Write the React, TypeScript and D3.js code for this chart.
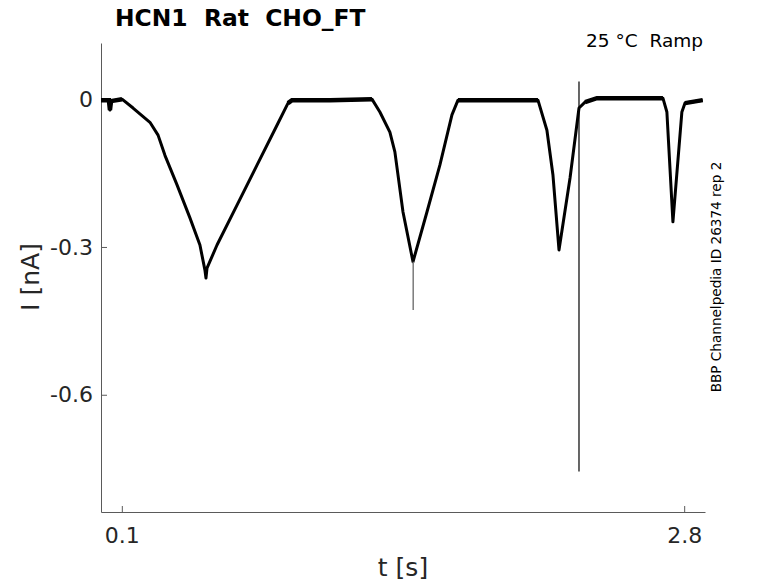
import React, { useEffect, useRef } from 'react';
import * as d3 from 'd3';

// trace (t in s, I in nA)
const timeS = [
  0, 0.038, 0.043, 0.048, 0.101, 0.154, 0.235, 0.274, 0.307, 0.365, 0.427, 0.475, 0.499, 0.504, 0.509,
  0.557, 0.653, 0.749, 0.845, 0.898, 0.917, 1.1, 1.301, 1.339, 1.387, 1.411, 1.45, 1.498,
  1.565, 1.627, 1.685, 1.714, 1.9, 2.098, 2.141, 2.17, 2.199, 2.252, 2.295, 2.324, 2.381,
  2.55, 2.698, 2.717, 2.746, 2.789, 2.804, 2.889,
];
const currentNA = [
  -0.002, -0.002, -0.022, -0.004, 0, -0.018, -0.047, -0.073, -0.114, -0.174, -0.241, -0.296, -0.347, -0.363, -0.343,
  -0.296, -0.215, -0.134, -0.053, -0.008, -0.002, -0.002, 0, -0.026, -0.067, -0.107, -0.229, -0.33,
  -0.229, -0.134, -0.032, -0.002, -0.002, -0.002, -0.063, -0.154, -0.306, -0.16, -0.018, -0.006, 0.002,
  0.002, 0.002, -0.026, -0.249, -0.026, -0.008, -0.002,
];

// holding periods where the noise band is visible
const plateauStart = [0, 0.898, 1.714, 2.324, 2.804];
const plateauEnd = [0.101, 1.301, 2.098, 2.698, 2.889];

// single-sample artefacts
const spikeTimes = [1.499, 2.295];
const spikeTops = [-0.33, 0.036];
const spikeBottoms = [-0.428, -0.756];

const xTicks = [0.1, 2.8];
const yTicks = [0, -0.3, -0.6];

const W = 778;
const H = 583;
const FONT = '"DejaVu Sans", sans-serif';

const App: React.FC = () => {
  const svgRef = useRef<SVGSVGElement>(null);

  useEffect(() => {
    const svg = d3.select(svgRef.current);
    svg.selectAll('*').remove();

    const x = d3.scaleLinear().domain([0, 2.9]).range([101, 705]);
    const y = d3.scaleLinear().domain([-0.838, 0.114]).range([512, 43]);

    // axes (ticks point inward)
    const xAxis = svg.append('g')
      .attr('transform', 'translate(0,512)')
      .call(d3.axisBottom(x).tickValues(xTicks).tickFormat(d3.format('.1f')).tickSizeInner(-6).tickSizeOuter(0).tickPadding(15));
    const yAxis = svg.append('g')
      .attr('transform', 'translate(101,0)')
      .call(d3.axisLeft(y).tickValues(yTicks).tickFormat(d => (d === 0 ? '0' : d3.format('.1f')(d as number))).tickSizeInner(-6).tickSizeOuter(0).tickPadding(8));

    [xAxis, yAxis].forEach(g => {
      g.select('.domain').attr('stroke', '#5a5a5a');
      g.selectAll('.tick line').attr('stroke', '#5a5a5a');
      g.selectAll('.tick text')
        .attr('fill', '#262626')
        .style('font-family', FONT)
        .style('font-size', '22px');
    });
    yAxis.selectAll('.tick text').text(function () { return (d3.select(this).text() as string).replace('−', '-'); });

    // trace
    const pts = timeS.map((t, i) => [t, currentNA[i]] as [number, number]);
    const line = d3.line<[number, number]>().x(d => x(d[0])).y(d => y(d[1]));
    svg.append('path')
      .datum(pts)
      .attr('fill', 'none')
      .attr('stroke', '#000')
      .attr('stroke-width', 3)
      .attr('stroke-linejoin', 'round')
      .attr('d', line);

    // thicker band on the flat parts (recording noise)
    plateauStart.forEach((t0, i) => {
      const seg = pts.filter(p => p[0] >= t0 && p[0] <= plateauEnd[i]);
      svg.append('path')
        .datum(seg)
        .attr('fill', 'none')
        .attr('stroke', '#000')
        .attr('stroke-width', 4.5)
        .attr('d', line);
    });

    spikeTimes.forEach((t, i) => {
      svg.append('line')
        .attr('x1', x(t)).attr('x2', x(t))
        .attr('y1', y(spikeTops[i])).attr('y2', y(spikeBottoms[i]))
        .attr('stroke', i === 0 ? '#7a7a7a' : '#000')
        .attr('stroke-width', i === 0 ? 1.5 : 1.2);
    });

    // labels
    svg.append('text')
      .attr('x', 115).attr('y', 26)
      .style('font-family', FONT).style('font-size', '23.4px').style('font-weight', 'bold')
      .style('white-space', 'pre')
      .attr('fill', '#000')
      .text('HCN1  Rat  CHO_FT');

    svg.append('text')
      .attr('x', 703).attr('y', 47)
      .attr('text-anchor', 'end')
      .style('font-family', FONT).style('font-size', '18.5px')
      .style('white-space', 'pre')
      .attr('fill', '#000')
      .text('25 °C  Ramp');

    svg.append('text')
      .attr('x', 403).attr('y', 576)
      .attr('text-anchor', 'middle')
      .style('font-family', FONT).style('font-size', '25px')
      .attr('fill', '#262626')
      .text('t [s]');

    svg.append('text')
      .attr('transform', 'translate(39,277) rotate(-90)')
      .attr('text-anchor', 'middle')
      .style('font-family', FONT).style('font-size', '25px')
      .attr('fill', '#262626')
      .text('I [nA]');

    svg.append('text')
      .attr('transform', 'translate(721,277) rotate(-90)')
      .attr('text-anchor', 'middle')
      .style('font-family', FONT).style('font-size', '13.6px')
      .attr('fill', '#000')
      .text('BBP Channelpedia ID 26374 rep 2');
  }, []);

  return (
    <div style={{ position: 'absolute', left: 0, top: 0, width: W, height: H, background: '#fff' }}>
      <svg ref={svgRef} width={W} height={H}></svg>
    </div>
  );
};

export default App;
